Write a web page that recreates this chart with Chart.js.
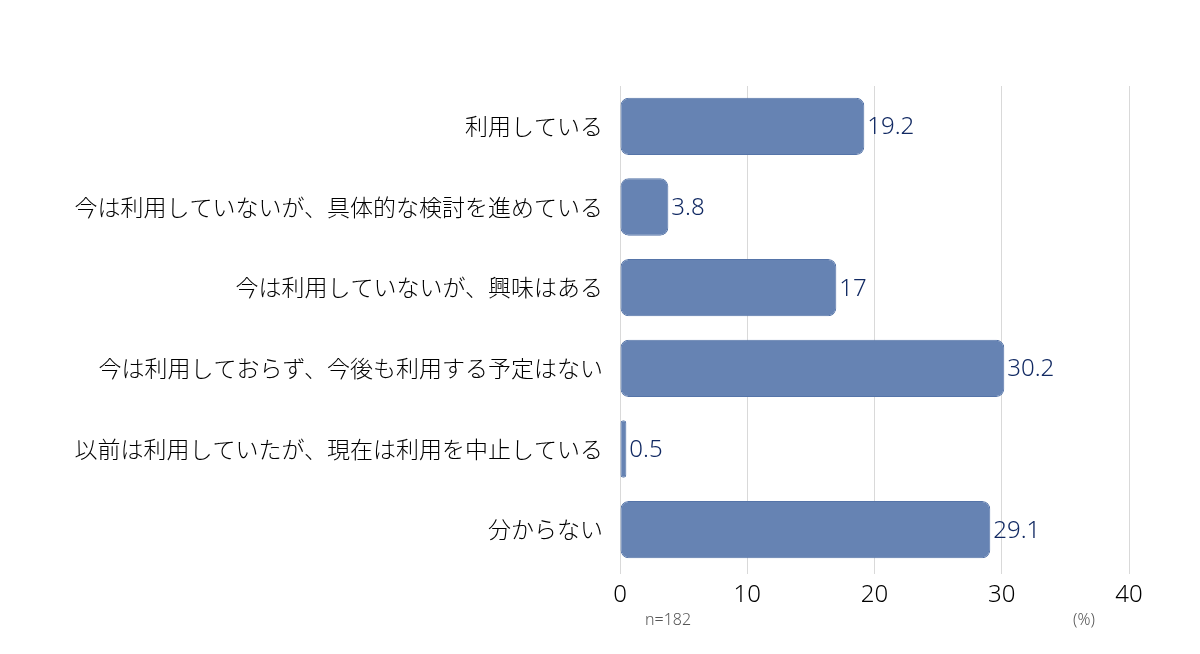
<!DOCTYPE html>
<html>
<head>
<meta charset="utf-8">
<script src="https://cdn.jsdelivr.net/npm/chart.js@4"></script>
<style>
  html, body { margin: 0; padding: 0; background: #fff; }
  #wrap { width: 1200px; height: 654px; position: relative; }
</style>
</head>
<body>
<div id="wrap"><canvas id="chart"></canvas></div>
<script>
const categories = [
  "利用している",
  "今は利用していないが、具体的な検討を進めている",
  "今は利用していないが、興味はある",
  "今は利用しておらず、今後も利用する予定はない",
  "以前は利用していたが、現在は利用を中止している",
  "分からない"
];
const values = [19.2, 3.8, 17, 30.2, 0.5, 29.1];
const xTicks = [0, 10, 20, 30, 40];
const sampleNote = "n=182";
const unitNote = "(%)";

const FONT = "'Noto Sans CJK JP', 'Noto Sans', sans-serif";
const NUM_FONT = "'Noto Sans', 'Noto Sans CJK JP', sans-serif";

// draws the value next to each bar, plus the n= and unit notes
const valueLabels = {
  id: "valueLabels",
  afterDatasetsDraw(chart) {
    const ctx = chart.ctx;
    const meta = chart.getDatasetMeta(0);
    ctx.save();
    ctx.font = "300 24px " + NUM_FONT;
    ctx.fillStyle = "#122a63";
    ctx.textBaseline = "middle";
    ctx.textAlign = "left";
    meta.data.forEach((bar, i) => {
      ctx.fillText(String(values[i]), bar.x + 3, bar.y + 1);
    });

    const x = chart.scales.x;
    ctx.font = "300 16px " + NUM_FONT;
    ctx.fillStyle = "#555";
    ctx.textAlign = "center";
    ctx.fillText(sampleNote, x.getPixelForValue(0) + 48, 620);
    ctx.fillText(unitNote, x.getPixelForValue(40) - 45, 620);
    ctx.restore();
  }
};

new Chart(document.getElementById("chart"), {
  type: "bar",
  data: {
    labels: categories,
    datasets: [{
      data: values,
      backgroundColor: "#6683b3",
      borderColor: "#5574a8",
      borderWidth: 1,
      borderSkipped: false,
      borderRadius: 8,
      categoryPercentage: 0.71,
      barPercentage: 1
    }]
  },
  options: {
    responsive: true,
    maintainAspectRatio: false,
    animation: false,
    indexAxis: "y",
    layout: { padding: { top: 86, right: 71, bottom: 0, left: 0 } },
    plugins: {
      legend: { display: false },
      tooltip: { enabled: false }
    },
    scales: {
      x: {
        min: 0,
        max: 40,
        afterBuildTicks(scale) {
          scale.ticks = xTicks.map((v) => ({ value: v }));
        },
        afterFit(scale) { scale.height = 84; },
        grid: { color: "#d9d9d9", lineWidth: 1, drawTicks: true, tickLength: 4 },
        border: { display: false },
        ticks: {
          color: "#000",
          padding: 7,
          font: { family: NUM_FONT, size: 24, weight: 300 }
        }
      },
      y: {
        afterFit(scale) { scale.width = 620; },
        grid: { display: false },
        border: { display: true, color: "#d9d9d9" },
        ticks: {
          color: "#000",
          padding: 9,
          font: { family: FONT, size: 23, weight: 300 }
        }
      }
    }
  },
  plugins: [valueLabels]
});
</script>
</body>
</html>
